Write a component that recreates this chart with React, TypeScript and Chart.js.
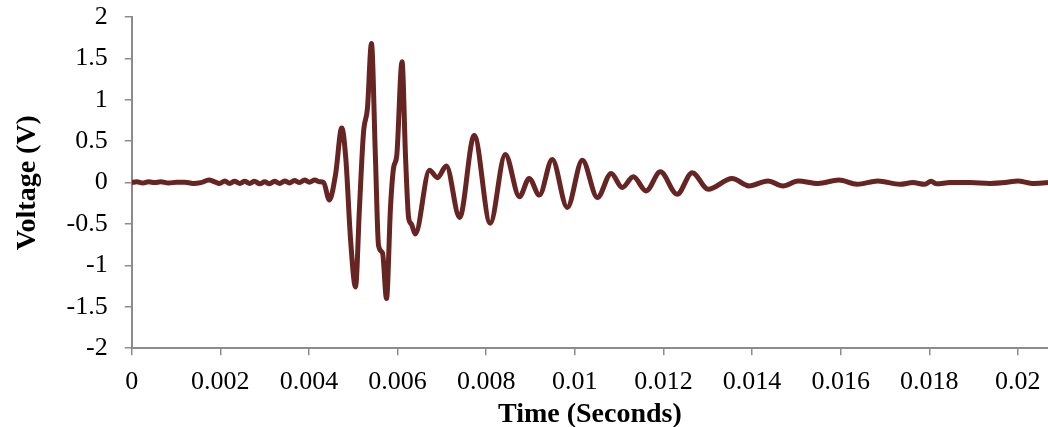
import React, { useEffect, useRef } from "react";
import { Chart, registerables } from "chart.js";

Chart.register(...registerables);

const timeS = [
  0, 0.00011, 0.00025, 0.00038, 0.00052, 0.00065, 0.00083, 0.00101, 0.0012, 0.00138,
  0.00156, 0.00174, 0.00187, 0.00198, 0.0021, 0.00221, 0.00232, 0.00244, 0.00255, 0.00266,
  0.00277, 0.00289, 0.003, 0.00311, 0.00322, 0.00334, 0.00345, 0.00356, 0.00367, 0.00379,
  0.0039, 0.00401, 0.00413, 0.00424, 0.00433, 0.00446, 0.0046, 0.00474, 0.00483, 0.00494,
  0.00505, 0.00514, 0.00523, 0.00532, 0.00541, 0.0055, 0.00557, 0.00566, 0.00575, 0.00584,
  0.00591, 0.00598, 0.0061, 0.00618, 0.00625, 0.00631, 0.0064, 0.00672, 0.0069, 0.0071,
  0.0074, 0.00773, 0.00809, 0.00843, 0.00875, 0.00897, 0.0092, 0.00949, 0.00983, 0.01017,
  0.01051, 0.01082, 0.01107, 0.01132, 0.01161, 0.01193, 0.01231, 0.01265, 0.01301, 0.01355,
  0.01393, 0.01436, 0.0147, 0.01504, 0.01549, 0.01596, 0.01637, 0.01684, 0.01734, 0.01763,
  0.0179, 0.01804, 0.01817, 0.01847, 0.01892, 0.01937, 0.01971, 0.02, 0.02032, 0.02068,
];

const voltageV = [
  0, 0.01, -0.005, 0.01, 0, 0.01, -0.005, 0.005, 0.005, -0.01,
  0, 0.03, 0.01, -0.01, 0.02, -0.01, 0.015, -0.01, 0.015, -0.01,
  0.015, -0.015, 0.01, -0.015, 0.015, -0.01, 0.02, -0.005, 0.025, 0,
  0.03, 0.005, 0.03, 0.01, 0, -0.21, 0.1, 0.66, 0.3, -0.7,
  -1.26, -0.3, 0.6, 0.9, 1.68, 0.3, -0.76, -0.85, -1.4, -0.3,
  0.18, 0.32, 1.46, 0.3, -0.43, -0.5, -0.62, 0.15, 0.06, 0.2,
  -0.42, 0.57, -0.49, 0.34, -0.17, 0.05, -0.15, 0.28, -0.3, 0.27,
  -0.18, 0.11, -0.06, 0.07, -0.1, 0.13, -0.14, 0.12, -0.08, 0.05,
  -0.04, 0.02, -0.04, 0.02, -0.01, 0.03, -0.02, 0.02, -0.02, 0,
  -0.02, 0.015, -0.015, 0, 0, -0.01, 0, 0.02, -0.01, 0,
];

const xTickValues = [0, 0.002, 0.004, 0.006, 0.008, 0.01, 0.012, 0.014, 0.016, 0.018, 0.02];
const xTickLabels = ["0", "0.002", "0.004", "0.006", "0.008", "0.01", "0.012", "0.014", "0.016", "0.018", "0.02"];
const yTickValues = [-2, -1.5, -1, -0.5, 0, 0.5, 1, 1.5, 2];
const yTickLabels = ["-2", "-1.5", "-1", "-0.5", "0", "0.5", "1", "1.5", "2"];

const X_MAX = 0.02068;
const FONT = "'Liberation Serif', 'Times New Roman', serif";
const LINE_COLOR = "#662523";
const AXIS_COLOR = "#8c8c8c";

export default function App() {
  const canvasRef = useRef<HTMLCanvasElement | null>(null);

  useEffect(() => {
    const canvas = canvasRef.current;
    if (!canvas) return;
    const points = timeS.map((t, i) => ({ x: t, y: voltageV[i] }));
    const chart = new Chart(canvas, {
      type: "line",
      data: {
        datasets: [
          {
            data: points,
            borderColor: LINE_COLOR,
            borderWidth: 5,
            pointRadius: 0,
            cubicInterpolationMode: "monotone",
            fill: false,
          },
        ],
      },
      options: {
        animation: false,
        responsive: false,
        maintainAspectRatio: false,
        layout: { padding: { left: 11, right: 0, top: 17, bottom: -5 } },
        plugins: {
          legend: { display: false },
          tooltip: { enabled: false },
        },
        scales: {
          x: {
            type: "linear",
            min: 0,
            max: X_MAX,
            afterFit: (scale: any) => {
              scale.paddingLeft = 0;
              scale.paddingRight = 0;
            },
            afterBuildTicks: (scale: any) => {
              scale.ticks = xTickValues.map((v) => ({ value: v }));
            },
            ticks: {
              autoSkip: false,
              maxRotation: 0,
              includeBounds: false,
              color: "#000",
              font: { family: FONT, size: 26 },
              padding: 11,
              callback: (value: any) => {
                const i = xTickValues.findIndex((v) => Math.abs(v - Number(value)) < 1e-9);
                return i >= 0 ? xTickLabels[i] : "";
              },
            },
            grid: {
              drawOnChartArea: false,
              drawTicks: true,
              tickLength: 7,
              color: AXIS_COLOR,
              lineWidth: 1.5,
            },
            border: { display: true, color: AXIS_COLOR, width: 2 },
            title: {
              display: true,
              text: "Time (Seconds)",
              color: "#000",
              font: { family: FONT, size: 28, weight: "bold" },
              padding: { top: -10, bottom: 0 },
            },
          },
          y: {
            type: "linear",
            min: -2,
            max: 2,
            afterFit: (scale: any) => {
              scale.paddingTop = 0;
              scale.paddingBottom = 0;
            },
            afterBuildTicks: (scale: any) => {
              scale.ticks = yTickValues.map((v) => ({ value: v }));
            },
            ticks: {
              autoSkip: false,
              color: "#000",
              font: { family: FONT, size: 26 },
              padding: 17,
              callback: (value: any) => {
                const i = yTickValues.findIndex((v) => Math.abs(v - Number(value)) < 1e-9);
                return i >= 0 ? yTickLabels[i] : "";
              },
            },
            grid: {
              drawOnChartArea: false,
              drawTicks: true,
              tickLength: 7,
              color: AXIS_COLOR,
              lineWidth: 1.5,
            },
            border: { display: true, color: AXIS_COLOR, width: 2 },
            title: {
              display: true,
              text: "Voltage (V)",
              color: "#000",
              font: { family: FONT, size: 28, weight: "bold" },
              padding: { top: 0, bottom: 5 },
            },
          },
        },
      },
    });
    return () => chart.destroy();
  }, []);

  return (
    <div style={{ position: "absolute", left: 0, top: 0, width: 1048, height: 427, background: "#fff" }}>
      <canvas ref={canvasRef} width={1048} height={427} style={{ display: "block" }} />
    </div>
  );
}
